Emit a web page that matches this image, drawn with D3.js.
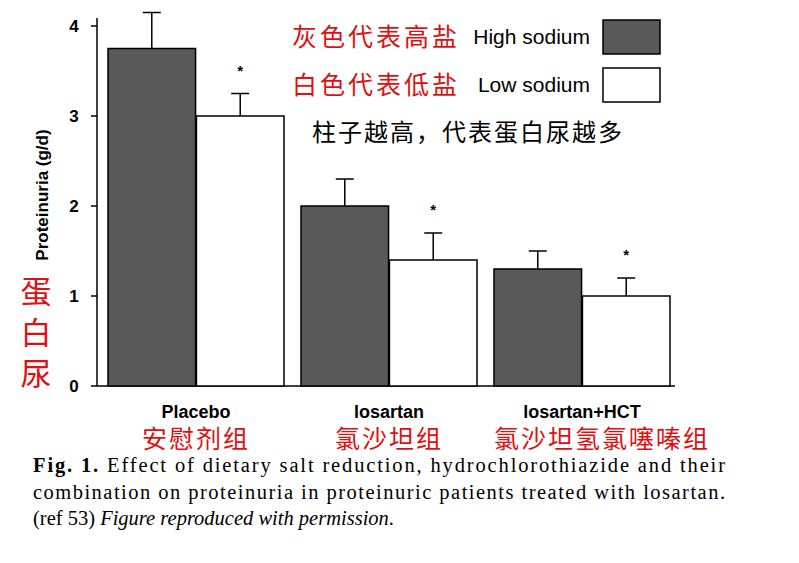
<!DOCTYPE html>
<html><head><meta charset="utf-8">
<script src="https://d3js.org/d3.v7.min.js"></script>
<style>body{margin:0;background:#fff}</style></head>
<body><svg id="c" width="799" height="563"></svg>
<script>
const groups = ["Placebo","losartan","losartan+HCT"];
const groupsZh = ["安慰剂组","氯沙坦组","氯沙坦氢氯噻嗪组"];
const series = ["High sodium","Low sodium"];
const seriesZh = ["灰色代表高盐","白色代表低盐"];
const highVals = [3.75, 2.0, 1.3];
const highErr = [4.15, 2.3, 1.5];
const lowVals = [3.0, 1.4, 1.0];
const lowErr = [3.25, 1.7, 1.2];
const yTicks = [0,1,2,3,4];

const svg = d3.select("#c");
const y = d3.scaleLinear().domain([0,4]).range([386,26]);
const x0 = d3.scaleBand().domain(groups).range([108,670]).paddingInner(0.088).paddingOuter(0);
const x1 = d3.scaleBand().domain(series).range([0,x0.bandwidth()]).paddingInner(0.01);
const fills = ["#595959","#fff"];

svg.append("line").attr("x1",97).attr("x2",97).attr("y1",18).attr("y2",386).attr("stroke","#000").attr("stroke-width",1.5);
svg.append("line").attr("x1",97).attr("x2",675).attr("y1",386).attr("y2",386).attr("stroke","#000").attr("stroke-width",1.5);
yTicks.forEach(t=>{
  svg.append("line").attr("x1",91).attr("x2",97).attr("y1",y(t)).attr("y2",y(t)).attr("stroke","#000").attr("stroke-width",1.5);
  svg.append("text").attr("x",74).attr("y",y(t)+6).attr("text-anchor","middle").attr("font-family","Liberation Sans").attr("font-weight","bold").attr("font-size",17).text(t);
});
svg.append("text").attr("transform","translate(48,195) rotate(-90)").attr("text-anchor","middle").attr("font-family","Liberation Sans").attr("font-weight","bold").attr("font-size",17).text("Proteinuria (g/d)");
["蛋","白","尿"].forEach((c,i)=>svg.append("text").attr("x",36).attr("y",303+i*41).attr("text-anchor","middle").attr("fill","#e01010").attr("font-family","Noto Sans CJK SC").attr("font-size",31).text(c));

const sets = [[highVals,highErr],[lowVals,lowErr]];
groups.forEach((g,gi)=>{
  series.forEach((s,si)=>{
    const v=sets[si][0][gi], e=sets[si][1][gi];
    const bx=x0(g)+x1(s), bw=x1.bandwidth(), cx=bx+bw/2;
    svg.append("line").attr("x1",cx).attr("x2",cx).attr("y1",y(v)).attr("y2",y(e)).attr("stroke","#000").attr("stroke-width",1.5);
    svg.append("line").attr("x1",cx-9).attr("x2",cx+9).attr("y1",y(e)).attr("y2",y(e)).attr("stroke","#000").attr("stroke-width",1.5);
    svg.append("rect").attr("x",bx).attr("y",y(v)).attr("width",bw).attr("height",y(0)-y(v)).attr("fill",fills[si]).attr("stroke","#000").attr("stroke-width",1.5);
    if(si===1) svg.append("text").attr("x",cx).attr("y",y(e)-18).attr("text-anchor","middle").attr("font-family","Liberation Sans").attr("font-weight","bold").attr("font-size",15).text("*");
  });
  const c=x0(g)+x0.bandwidth()/2;
  svg.append("text").attr("x",c).attr("y",418).attr("text-anchor","middle").attr("font-family","Liberation Sans").attr("font-weight","bold").attr("font-size",18).text(g);
  svg.append("text").attr("x",c+(gi===2?20:0)).attr("y",448).attr("text-anchor","middle").attr("fill","#e01010").attr("font-family","Noto Sans CJK SC").attr("font-size",25).attr("letter-spacing",2).text(groupsZh[gi]);
});

series.forEach((s,i)=>{
  const yy=20+i*48;
  svg.append("rect").attr("x",603).attr("y",yy).attr("width",57).attr("height",34).attr("fill",fills[i]).attr("stroke","#000").attr("stroke-width",1.5);
  svg.append("text").attr("x",590).attr("y",yy+24).attr("text-anchor","end").attr("font-family","Liberation Sans").attr("font-size",21).text(s);
  svg.append("text").attr("x",460).attr("y",yy+26).attr("text-anchor","end").attr("fill","#e01010").attr("font-family","Noto Sans CJK SC").attr("font-size",25).attr("letter-spacing",3).text(seriesZh[i]);
});
svg.append("text").attr("x",312).attr("y",141).attr("font-family","Noto Sans CJK SC").attr("font-size",24).attr("letter-spacing",2).text("柱子越高，代表蛋白尿越多");

const cap = svg.append("g").attr("font-family","Liberation Serif").attr("font-size",20.5);
const t1 = cap.append("text").attr("x",33).attr("y",472).attr("textLength",692).attr("lengthAdjust","spacing");
t1.append("tspan").attr("font-weight","bold").text("Fig. 1.");
t1.append("tspan").text(" Effect of dietary salt reduction, hydrochlorothiazide and their");
cap.append("text").attr("x",33).attr("y",499).attr("textLength",692).attr("lengthAdjust","spacing").text("combination on proteinuria in proteinuric patients treated with losartan.");
const t3 = cap.append("text").attr("x",33).attr("y",525);
t3.append("tspan").text("(ref 53) ");
t3.append("tspan").attr("font-style","italic").text("Figure reproduced with permission");
t3.append("tspan").text(".");
</script></body></html>
